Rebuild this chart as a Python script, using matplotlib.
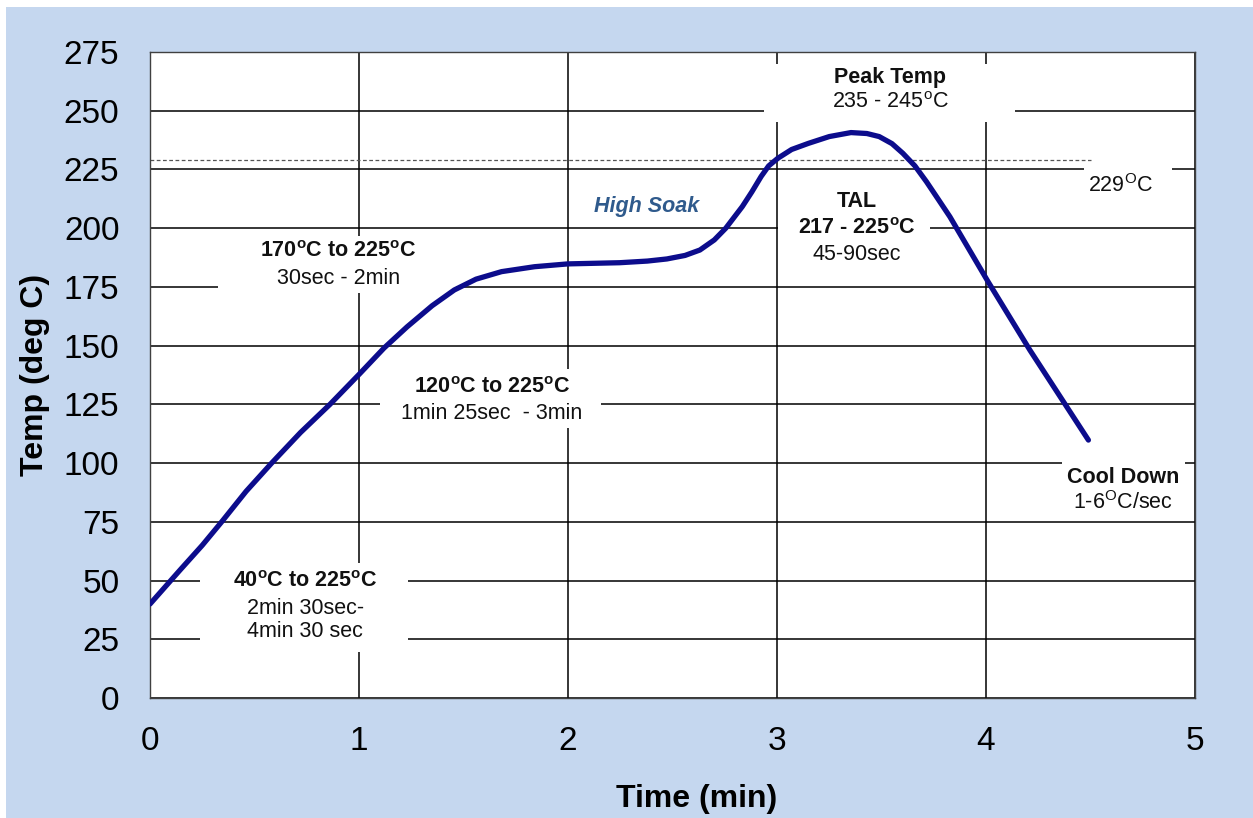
import matplotlib
matplotlib.use("Agg")
import matplotlib.pyplot as plt
from matplotlib.patches import Rectangle

plt.rcParams.update({
    'font.family': ['Liberation Sans', 'DejaVu Sans'],
    'mathtext.fontset': 'custom',
    'mathtext.rm': 'Liberation Sans',
    'mathtext.bf': 'Liberation Sans:bold',
    'mathtext.it': 'Liberation Sans:italic',
})

# reflow profile
time_min = [0, 0.144, 0.25, 0.343, 0.46, 0.582, 0.72, 0.861, 1.005, 1.12, 1.23,
            1.35, 1.456, 1.56, 1.682, 1.84, 2.0, 2.247, 2.38, 2.473, 2.56, 2.631, 2.7,
            2.755, 2.834, 2.88, 2.924, 2.96, 3.003, 3.07, 3.15, 3.25, 3.354, 3.43,
            3.489, 3.55, 3.602, 3.66, 3.715, 3.77, 3.827, 4.008, 4.21, 4.49]
temp_c = [40, 54.5, 65, 75, 88, 100, 113, 125, 138.2, 149, 158,
          167, 173.7, 178.3, 181.5, 183.6, 184.8, 185.3, 186, 186.9, 188.4, 190.7, 195,
          200, 209.2, 215.5, 222, 226.5, 229.7, 233.5, 236.1, 239, 240.7, 240.3,
          239, 236, 231.9, 226.5, 219.8, 212.5, 204.9, 177.5, 148.1, 109.8]
tal_line = 229
tal_end = 4.5

x_ticks = [0, 1, 2, 3, 4, 5]
y_ticks = list(range(0, 276, 25))

BG = "#c5d7ef"
NAVY = "#0c0c8c"

fig = plt.figure(figsize=(12.53, 8.18), dpi=100)
fig.set_facecolor("white")
bg = Rectangle((6 / 1253, 0), 1, 1 - 7 / 818, transform=fig.transFigure,
               facecolor=BG, edgecolor="none", zorder=-10)
fig.add_artist(bg)

ax = fig.add_axes([150 / 1253, 1 - 698 / 818, 1045 / 1253, 646 / 818])
ax.set_facecolor("white")
ax.set_xlim(0, 5)
ax.set_ylim(0, 275)
ax.set_xticks(x_ticks)
ax.set_yticks(y_ticks)
ax.tick_params(length=0, labelsize=24, pad=20)
ax.tick_params(axis='y', pad=22)
ax.grid(True, color="black", linewidth=1.1, zorder=0.5)
ax.set_axisbelow(True)
for sp in ax.spines.values():
    sp.set_color("#404040")
    sp.set_linewidth(1.0)

ax.set_xlabel("Time (min)", fontsize=23, fontweight='bold')
ax.set_ylabel("Temp (deg C)", fontsize=23, fontweight='bold')
ax.xaxis.set_label_coords(0.523, -0.133)
ax.yaxis.set_label_coords(-0.096, 0.5)

# white blocks behind the annotations (hide grid lines)
boxes = [
    (0.325, 172.5, 1.14, 24),
    (1.10, 115, 1.06, 25),
    (0.24, 19.5, 0.995, 38),
    (2.94, 245, 1.20, 25),
    (3.005, 184, 0.725, 34),
    (4.47, 212, 0.42, 14.5),
    (4.364, 77, 0.59, 24),
]
for bx, by, bw, bh in boxes:
    ax.add_patch(Rectangle((bx, by), bw, bh, facecolor="white", edgecolor="none", zorder=1.5))

ax.plot([0, tal_end], [tal_line, tal_line], linestyle=(0, (3, 2)), color="#555555",
        linewidth=0.9, zorder=2)
ax.plot(time_min, temp_c, color=NAVY, linewidth=3.8, solid_capstyle='round',
        solid_joinstyle='round', zorder=3)

fs = 15.5
deg_b = r"$^{\mathbf{o}}$"
deg = r"$^{\mathrm{o}}$"
degO = r"$^{\mathrm{O}}$"


def label(x, y, s, bold=False, **kw):
    ax.text(x, y, s, ha='center', va='center', fontsize=fs,
            fontweight='bold' if bold else 'normal', color=kw.pop('color', '#111111'),
            zorder=4, **kw)


label(0.90, 189.9, "170" + deg_b + "C to 225" + deg_b + "C", bold=True)
label(0.90, 178.4, "30sec - 2min")
label(1.636, 132, "120" + deg_b + "C to 225" + deg_b + "C", bold=True)
label(1.636, 120.9, "1min 25sec  - 3min")
label(0.742, 49.8, "40" + deg_b + "C to 225" + deg_b + "C", bold=True)
label(0.742, 38.3, "2min 30sec-")
label(0.742, 28.1, "4min 30 sec")
label(2.378, 209.4, "High Soak", bold=True, style='italic', color="#2f5a8c")
label(3.54, 264, "Peak Temp", bold=True)
label(3.54, 253.3, "235 - 245" + deg + "C")
label(3.383, 211.2, "TAL", bold=True)
label(3.383, 199.7, "217 - 225" + deg_b + "C", bold=True)
label(3.383, 189, "45-90sec")
label(4.646, 218, "229" + degO + "C")
label(4.656, 93.7, "Cool Down", bold=True)
label(4.656, 83, "1-6" + degO + "C/sec")

fig.savefig("out.png", dpi=100, facecolor=fig.get_facecolor())
